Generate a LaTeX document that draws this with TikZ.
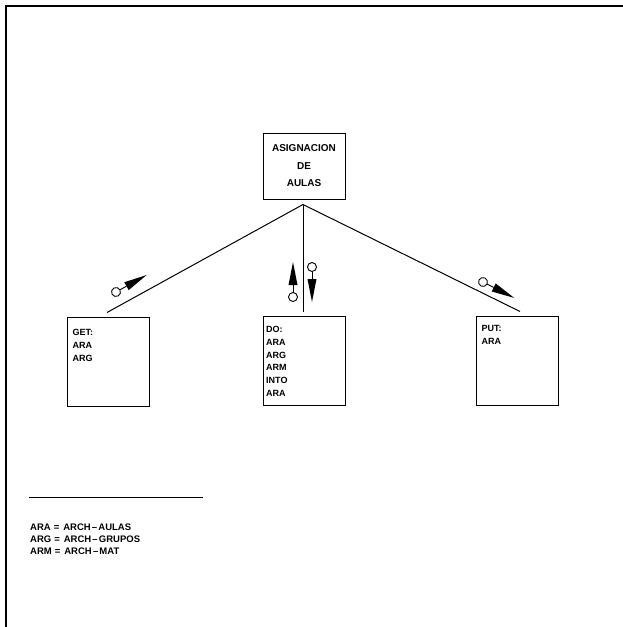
\documentclass[tikz,border=0pt]{standalone}
\usepackage{fontspec}
\setmainfont{Liberation Sans}
\usetikzlibrary{positioning,calc}

% data couple: circle, stem and filled head, placed at #1 and turned by #2
\newcommand{\datacouple}[2]{%
  \begin{scope}[shift={#1},rotate=#2]
    \draw[line width=0.9pt] (0,0) circle (4.5pt);
    \draw[line width=0.9pt] (4.5,0) -- (12,0);
    \fill (12,-4.5) -- (35,0) -- (12,4.5) -- cycle;
  \end{scope}}

\begin{document}
\begin{tikzpicture}[x=1pt,y=-1pt,
    topbox/.style={draw,line width=1pt,minimum width=82pt,minimum height=66pt,inner sep=0pt,align=center,font=\fontsize{10}{17.5}\selectfont\bfseries},
    modbox/.style={draw,line width=1pt,minimum width=82pt,minimum height=89pt,inner sep=0pt},
    boxtext/.style={anchor=north west,align=left,inner sep=0pt,font=\fontsize{9}{12.8}\selectfont\bfseries},
    link/.style={line width=1pt},
    legend/.style={anchor=base west,inner sep=0pt,font=\fontsize{9.5}{12}\selectfont\bfseries},
    frame/.style={line width=1.3pt}
]
\useasboundingbox (0,0) rectangle (623,627);
% sheet border
\coordinate (fTL) at (6,6);
\coordinate (fTR) at (623,6);
\coordinate (fBL) at (6,627);
\draw[frame] (fTR) -- (fTL) -- (fBL);

% modules
\node[topbox] (asig) at (304,166) {ASIGNACION\\DE\\AULAS};
\node[modbox] (get) at (108,361.5) {};
\node[modbox] (do) at (304.5,361) {};
\node[modbox] (put) at (517,360.5) {};
\node[boxtext] (gettext) at ($(get.north west)+(6,13)$) {GET:\\ARA\\ARG};
\node[boxtext] (dotext) at ($(do.north west)+(3,10)$) {DO:\\ARA\\ARG\\ARM\\INTO\\ARA};
\node[boxtext] (puttext) at ($(put.north west)+(6,10)$) {PUT:\\ARA};

% connections
\coordinate (apex) at ($(asig.south)+(-1,5)$);
\coordinate (getend) at ($(get.north)+(-1,-4)$);
\coordinate (doend) at ($(do.north)+(-1.5,-4)$);
\coordinate (putend) at ($(put.north)+(3,-4)$);
\draw[link] (apex) -- (getend);
\draw[link] (apex) -- (doend);
\draw[link] (apex) -- (putend);

% couples
\datacouple{(116,292)}{29}
\datacouple{(293,297)}{90}
\datacouple{(312,267)}{-90}
\datacouple{(483,282)}{-27}

% legend
\coordinate (legL) at (29,497);
\coordinate (legR) at (203,497);
\draw[line width=1pt] (legL) -- (legR);
\node[legend] (legara) at (30,530) {ARA\hspace{3pt}=\hspace{4pt}ARCH\hspace{1.2pt}--\hspace{1.2pt}AULAS};
\node[legend] (legarg) at (30,542) {ARG\hspace{3pt}=\hspace{4pt}ARCH\hspace{1.2pt}--\hspace{1.2pt}GRUPOS};
\node[legend] (legarm) at (30,554) {ARM\hspace{3pt}=\hspace{4pt}ARCH\hspace{1.2pt}--\hspace{1.2pt}MAT};
\end{tikzpicture}
\end{document}
